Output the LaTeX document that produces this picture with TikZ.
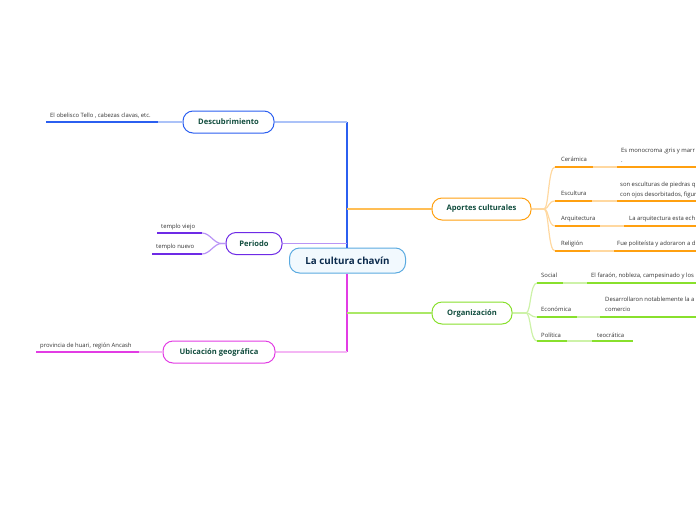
\documentclass[tikz,border=0pt]{standalone}
\usepackage{fontspec}
\setmainfont{Open Sans}
\definecolor{bluedark}{HTML}{2B5FF0}
\definecolor{bluelight}{HTML}{ABC2F8}
\definecolor{purpdark}{HTML}{6E2AE6}
\definecolor{purplight}{HTML}{B994F6}
\definecolor{magdark}{HTML}{E23CE4}
\definecolor{maglight}{HTML}{F4B6F4}
\definecolor{orgdark}{HTML}{FFA010}
\definecolor{orgmid}{HTML}{FFBE55}
\definecolor{orglight}{HTML}{FFD8A0}
\definecolor{grndark}{HTML}{88E02C}
\definecolor{grnmid}{HTML}{AAE866}
\definecolor{grnlight}{HTML}{CDF2A8}
\definecolor{rootline}{HTML}{5AAAE0}
\definecolor{rootfill}{HTML}{F2F9FE}
\definecolor{roottext}{HTML}{0B2A4C}
\definecolor{topictext}{HTML}{114D3E}
\definecolor{leaftext}{HTML}{333333}

\begin{document}
\begin{tikzpicture}[x=1pt,y=-1pt,
  root/.style={draw=rootline,line width=1pt,rounded corners=10pt,fill=rootfill,minimum width=116pt,minimum height=25pt,inner sep=0pt,font=\fontsize{9.8}{11}\selectfont\bfseries,text=roottext},
  topic/.style={draw,line width=1pt,rounded corners=10pt,fill=white,minimum height=22pt,inner sep=0pt,font=\fontsize{7.6}{9}\selectfont\bfseries,text=topictext},
  leaf/.style={anchor=west,inner sep=0pt,font=\fontsize{5.9}{10}\selectfont,text=leaftext,align=left},
  stem/.style={line width=1.2pt},
  bar/.style={line width=2pt}]
  \clip (0,0) rectangle (696,520);
  % Nodes
  \node[root] (root) at (347.5,260.5) {La cultura chavín};
  \node[topic,draw=bluedark,minimum width=91pt] (desc) at (228.5,122) {Descubrimiento};
  \node[topic,draw=purpdark,minimum width=56pt] (per) at (254,243.5) {Periodo};
  \node[topic,draw=magdark,minimum width=112pt] (ubic) at (219,352) {Ubicación geográfica};
  \node[topic,draw=orgdark,minimum width=99pt] (apor) at (481.5,209) {Aportes culturales};
  \node[topic,draw=grndark,minimum width=80pt] (org) at (472,313) {Organización};
  % Trunk
  \coordinate (jt) at (347,122);
  \coordinate (jp) at (347,243.5);
  \coordinate (ja) at (347,209);
  \coordinate (jo) at (347,313);
  \coordinate (jb) at (347,352);
  \draw[stem,bluedark] (jt) -- (root.north -| jt);
  \draw[stem,magdark] (root.south -| jt) -- (jb);
  \draw[stem,bluelight] (desc.east) -- (jt);
  \draw[stem,purplight] (per.east) -- (jp);
  \draw[stem,maglight] (ubic.east) -- (jb);
  \draw[stem,orgmid] (ja) -- (apor.west);
  \draw[stem,grnmid] (jo) -- (org.west);
  % Descubrimiento
  \coordinate (d1a) at (46,122);
  \coordinate (d1b) at (158,122);
  \node[leaf] (d1) at (50,115.5) {El obelisco Tello , cabezas clavas, etc.};
  \draw[bar,bluedark] (d1a) -- (d1b);
  \draw[stem,bluelight] (d1b) -- (desc.west);
  % Periodo
  \coordinate (p1a) at (157,233);
  \coordinate (p1b) at (202,233);
  \coordinate (p2a) at (152,254);
  \coordinate (p2b) at (202,254);
  \node[leaf] (p1) at (161,226.5) {templo viejo};
  \node[leaf] (p2) at (156,247) {templo nuevo};
  \draw[bar,purpdark] (p1a) -- (p1b);
  \draw[bar,purpdark] (p2a) -- (p2b);
  \draw[stem,purplight] (per.west) -- ++(-4,0) .. controls (214,243.5) and (210,233) .. (p1b);
  \draw[stem,purplight] (per.west) -- ++(-4,0) .. controls (214,243.5) and (210,254) .. (p2b);
  % Ubicacion geografica
  \coordinate (u1a) at (36,352);
  \coordinate (u1b) at (139,352);
  \node[leaf] (u1) at (40,346) {provincia de huari, región Ancash};
  \draw[bar,magdark] (u1a) -- (u1b);
  \draw[stem,maglight] (u1b) -- (ubic.west);
  % Aportes culturales
  \coordinate (ah) at (544,209);
  \draw[stem,orglight] (apor.east) -- (ah);
  \coordinate (a1a) at (555,167);  \coordinate (a1b) at (593,167);
  \coordinate (a1c) at (617,167);  \coordinate (a1d) at (696,167);
  \coordinate (a2a) at (555,201);  \coordinate (a2b) at (592,201);
  \coordinate (a2c) at (617,201);  \coordinate (a2d) at (696,201);
  \coordinate (a3a) at (555,226);  \coordinate (a3b) at (600,226);
  \coordinate (a3c) at (624,226);  \coordinate (a3d) at (696,226);
  \coordinate (a4a) at (555,251);  \coordinate (a4b) at (590,251);
  \coordinate (a4c) at (614,251);  \coordinate (a4d) at (696,251);
  \draw[stem,orglight] (ah) .. controls (549,209) and (548,167) .. (a1a);
  \draw[stem,orglight] (ah) .. controls (549,209) and (548,201) .. (a2a);
  \draw[stem,orglight] (ah) .. controls (549,209) and (548,226) .. (a3a);
  \draw[stem,orglight] (ah) .. controls (549,209) and (548,251) .. (a4a);
  \node[leaf] (a1) at (561,159.5) {Cerámica};
  \node[leaf] (a2) at (561,193.5) {Escultura};
  \node[leaf] (a3) at (561,219) {Arquitectura};
  \node[leaf] (a4) at (561,244) {Religión};
  \node[leaf] (a1t) at (621,155.5) {Es monocroma ,gris y marr\\.};
  \node[leaf] (a2t) at (620,189.5) {son esculturas de piedras q\\con ojos desorbitados, figur};
  \node[leaf] (a3t) at (629,219) {La arquitectura esta ech};
  \node[leaf] (a4t) at (617,244) {Fue politeísta y adoraron a d};
  \draw[bar,orgdark] (a1a) -- (a1b);  \draw[stem,orglight] (a1b) -- (a1c);  \draw[bar,orgdark] (a1c) -- (a1d);
  \draw[bar,orgdark] (a2a) -- (a2b);  \draw[stem,orglight] (a2b) -- (a2c);  \draw[bar,orgdark] (a2c) -- (a2d);
  \draw[bar,orgdark] (a3a) -- (a3b);  \draw[stem,orglight] (a3b) -- (a3c);  \draw[bar,orgdark] (a3c) -- (a3d);
  \draw[bar,orgdark] (a4a) -- (a4b);  \draw[stem,orglight] (a4b) -- (a4c);  \draw[bar,orgdark] (a4c) -- (a4d);
  % Organizacion
  \coordinate (oh) at (526,313);
  \draw[stem,grnlight] (org.east) -- (oh);
  \coordinate (o1a) at (537,283);  \coordinate (o1b) at (563,283);
  \coordinate (o1c) at (587,283);  \coordinate (o1d) at (696,283);
  \coordinate (o2a) at (537,317);  \coordinate (o2b) at (577,317);
  \coordinate (o2c) at (600,317);  \coordinate (o2d) at (696,317);
  \coordinate (o3a) at (537,341);  \coordinate (o3b) at (567,341);
  \coordinate (o3c) at (592,341);  \coordinate (o3d) at (633,341);
  \draw[stem,grnlight] (oh) .. controls (531,313) and (530,283) .. (o1a);
  \draw[stem,grnlight] (oh) .. controls (531,313) and (530,317) .. (o2a);
  \draw[stem,grnlight] (oh) .. controls (531,313) and (530,341) .. (o3a);
  \node[leaf] (o1) at (541,275.5) {Social};
  \node[leaf] (o2) at (541,309.5) {Económica};
  \node[leaf] (o3) at (541,335) {Política};
  \node[leaf] (o1t) at (591,275.5) {El faraón, nobleza, campesinado y los};
  \node[leaf] (o2t) at (605,304.5) {Desarrollaron notablemente la a\\comercio};
  \node[leaf] (o3t) at (597,335) {teocrática};
  \draw[bar,grndark] (o1a) -- (o1b);  \draw[stem,grnlight] (o1b) -- (o1c);  \draw[bar,grndark] (o1c) -- (o1d);
  \draw[bar,grndark] (o2a) -- (o2b);  \draw[stem,grnlight] (o2b) -- (o2c);  \draw[bar,grndark] (o2c) -- (o2d);
  \draw[bar,grndark] (o3a) -- (o3b);  \draw[stem,grnlight] (o3b) -- (o3c);  \draw[bar,grndark] (o3c) -- (o3d);
\end{tikzpicture}
\end{document}
